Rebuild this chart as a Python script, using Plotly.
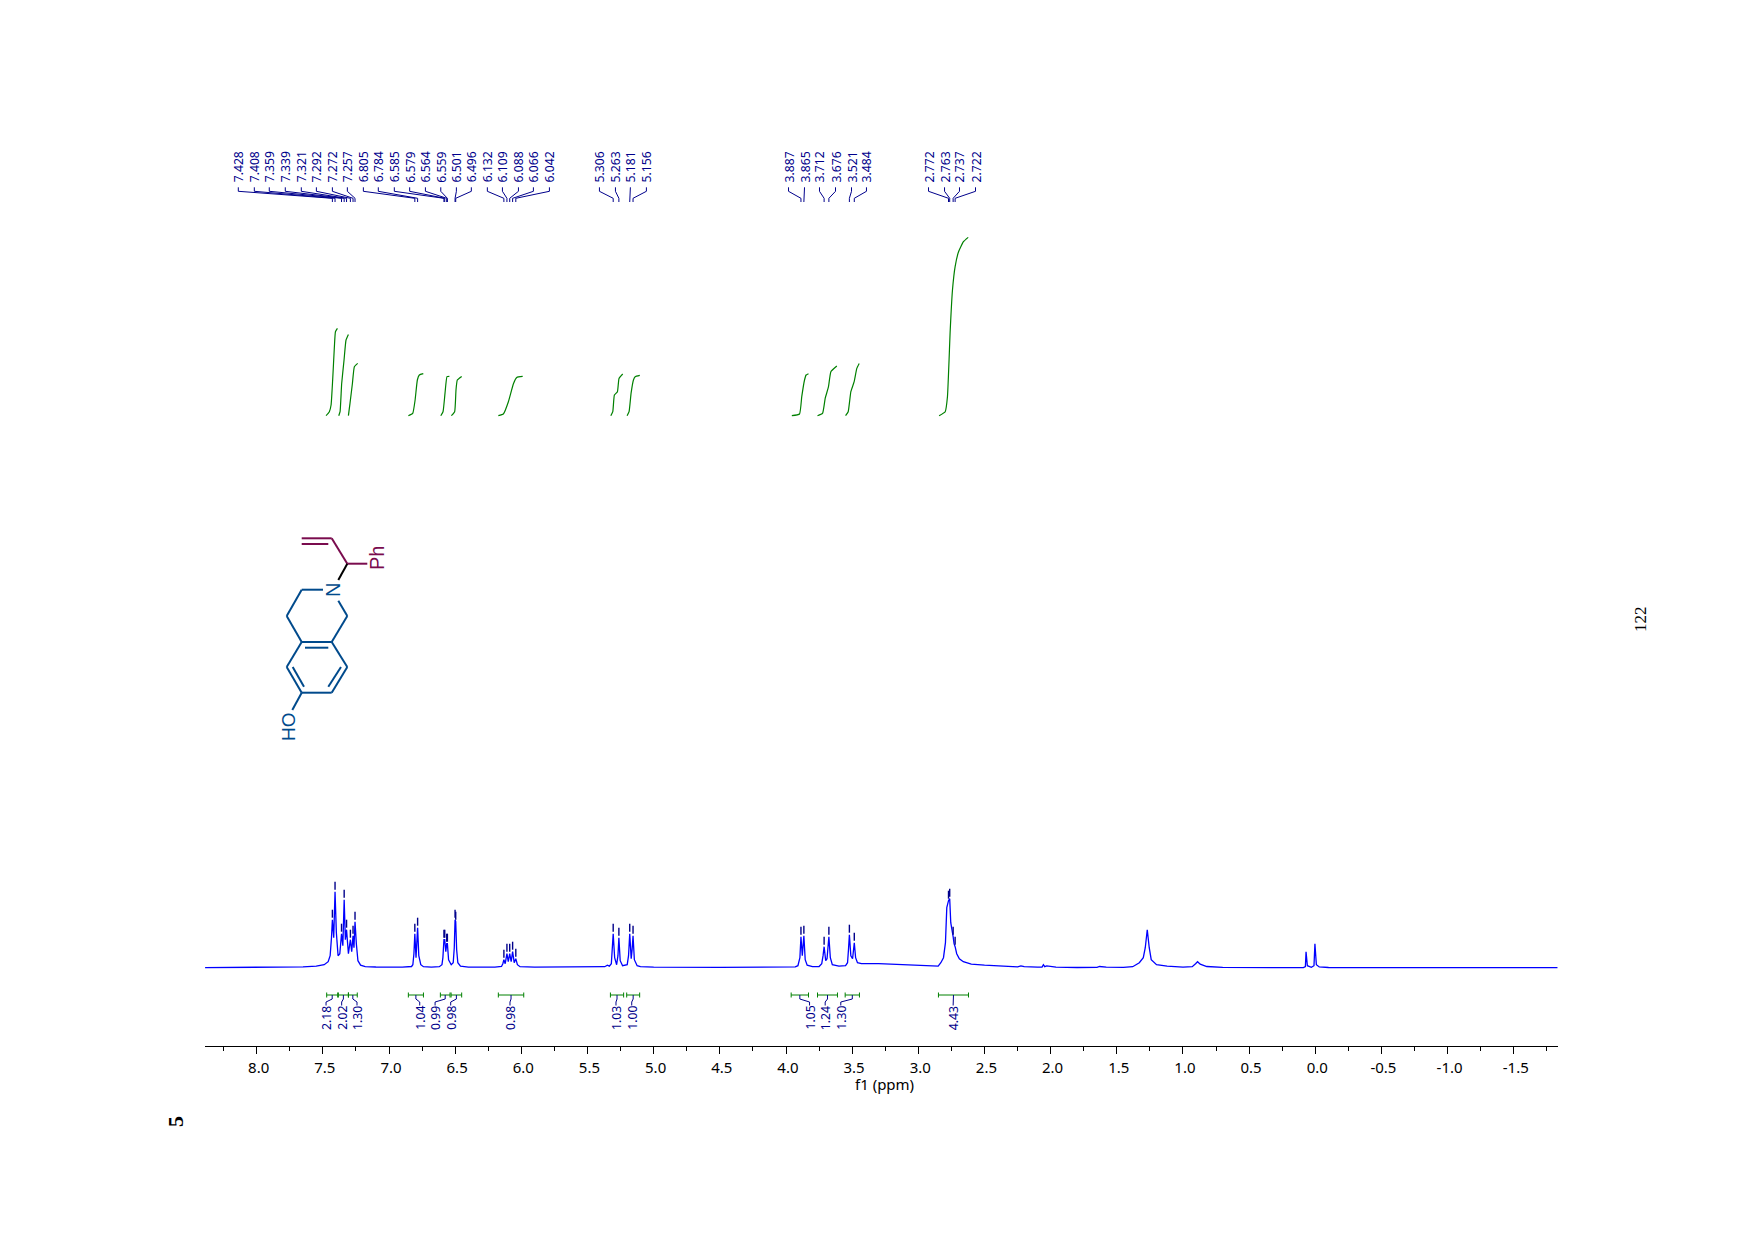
"""1H NMR spectrum with peak labels, integrals and structure inset"""
import plotly.graph_objects as go

W, H = 1754, 1240
AX_LEFT, AX_RIGHT = 204.7, 1558.0
BASE_PX = 967.7
INT_BASE = 552.0   # integral curves start here (same units as the spectrum)
NAVY, GREEN, BLUE = '#00008B', '#008000', '#0000FF'
MOL_BLUE, MOL_RED = '#004A8C', '#7A0C4E'
FONT = 'Noto Sans'

tick_vals = [8.0, 7.5, 7.0, 6.5, 6.0, 5.5, 5.0, 4.5, 4.0, 3.5, 3.0, 2.5, 2.0, 1.5, 1.0, 0.5, 0.0, -0.5, -1.0, -1.5]
tick_labels = ['8.0', '7.5', '7.0', '6.5', '6.0', '5.5', '5.0', '4.5', '4.0', '3.5', '3.0', '2.5', '2.0', '1.5',
               '1.0', '0.5', '0.0', '-0.5', '-1.0', '-1.5']

# spectrum trace
arom_ppm = [8.39, 7.8, 7.65, 7.55, 7.49, 7.46, 7.445, 7.435, 7.428, 7.418, 7.408, 7.398, 7.385, 7.372, 7.359, 7.349,
            7.339, 7.33, 7.321, 7.307, 7.292, 7.282, 7.272, 7.265, 7.257, 7.247, 7.235, 7.215, 7.18, 7.1, 7.0, 6.9]
arom_int = [0, 0.3, 0.9, 1.5, 3, 6, 12, 30, 48, 30, 76, 35, 12, 14, 34, 22,
            68, 28, 38, 14, 28, 16, 32, 20, 46, 24, 7, 2.5, 1, 0.7, 0.5, 0.6]
ar2_ppm = [6.83, 6.82, 6.812, 6.805, 6.796, 6.784, 6.775, 6.76, 6.74, 6.68, 6.62, 6.6, 6.593, 6.585, 6.579, 6.571,
           6.564, 6.559, 6.55, 6.53, 6.515, 6.507, 6.501, 6.496, 6.489, 6.48, 6.46, 6.4]
ar2_int = [1.2, 3, 14, 34, 10, 40, 12, 3, 1, 0.6, 1, 3, 10, 28, 28, 16,
           24, 24, 8, 3, 5, 20, 48, 46, 18, 5, 1.5, 0.6]
vinyl_ppm = [6.2, 6.15, 6.14, 6.132, 6.122, 6.109, 6.099, 6.088, 6.077, 6.066, 6.054, 6.042, 6.03, 6.01, 5.9, 5.5,
             5.37, 5.35, 5.335, 5.32, 5.314, 5.306, 5.295, 5.28, 5.27, 5.263, 5.253, 5.235, 5.2, 5.19, 5.181, 5.17,
             5.163, 5.156, 5.146, 5.125, 5.1, 5.0, 4.5, 4.15]
vinyl_int = [0.6, 1.2, 4, 8, 4, 14, 6, 14, 6, 16, 5, 9, 3, 1, 0.5, 0.5,
             1, 2.5, 1.5, 4, 14, 34, 10, 3, 12, 30, 7, 2, 3, 12, 34, 9,
             18, 32, 8, 2, 1, 0.5, 0.4, 0.6]
mid_ppm = [3.93, 3.91, 3.895, 3.887, 3.877, 3.865, 3.855, 3.84, 3.8, 3.75, 3.73, 3.72, 3.712, 3.7, 3.69, 3.676,
           3.665, 3.65, 3.6, 3.55, 3.535, 3.528, 3.521, 3.51, 3.497, 3.484, 3.474, 3.46, 3.43, 3.3, 3.1, 2.9]
mid_int = [0.8, 2, 10, 31, 12, 32, 8, 2.5, 1, 1.2, 4, 12, 21, 7, 9, 31,
           10, 3, 1.5, 2, 5, 18, 33, 12, 9, 25, 10, 5, 4, 4, 3, 1.5]
ch2_ppm = [2.85, 2.83, 2.81, 2.795, 2.785, 2.772, 2.763, 2.755, 2.745, 2.737, 2.73, 2.722, 2.71, 2.69, 2.66, 2.6,
           2.5, 2.35, 2.25, 2.225, 2.2, 2.1, 2.065, 2.055, 2.045, 2.03, 2.0, 1.96, 1.8, 1.65, 1.63, 1.58, 1.45]
ch2_int = [1.5, 5, 10, 25, 60, 67, 69, 45, 34, 31, 24, 21, 14, 9, 6, 3.5,
           2.5, 1.2, 0.8, 1.8, 1, 0.6, 0.7, 3, 1, 1.8, 1.4, 0.6, 0.2, 0.4, 1.2, 0.6, 0.3]
upfield_ppm = [1.38, 1.33, 1.3, 1.285, 1.27, 1.255, 1.24, 1.2, 1.12, 1.0, 0.93, 0.905, 0.89, 0.87, 0.82, 0.7, 0.5,
               0.09, 0.075, 0.07, 0.06, 0.03, 0.01, 0.003, -0.008, -0.03, -0.1, -1.83]
upfield_int = [1, 5, 10, 20, 38, 20, 8, 3, 1.5, 0.6, 1, 4, 6, 3.5, 1.2, 0.4, 0.2,
               0, 1, 16, 2, 0.4, 2, 24, 3, 0.8, 0.2, 0]

# peak picks: value, height of the peak, position of the label
peak_ppm = [7.428, 7.408, 7.359, 7.339, 7.321, 7.292, 7.272, 7.257, 6.805, 6.784, 6.585, 6.579, 6.564, 6.559, 6.501,
            6.496, 6.132, 6.109, 6.088, 6.066, 6.042, 5.306, 5.263, 5.181, 5.156, 3.887, 3.865, 3.712, 3.676, 3.521,
            3.484, 2.772, 2.763, 2.737, 2.722]
peak_height = [48, 76, 34, 68, 38, 28, 32, 46, 34, 40, 28, 28, 24, 24, 48,
               46, 8, 14, 14, 16, 9, 34, 30, 34, 32, 31, 32, 21, 31, 33,
               25, 67, 69, 31, 21]
label_ppm = [8.139, 8.018, 7.905, 7.784, 7.663, 7.549, 7.428, 7.315, 7.194, 7.081, 6.96, 6.844, 6.725, 6.609, 6.491,
             6.378, 6.257, 6.143, 6.022, 5.909, 5.788, 5.41, 5.289, 5.176, 5.055, 3.981, 3.86, 3.747, 3.626, 3.505,
             3.392, 2.923, 2.802, 2.689, 2.568]

# integrals: range, printed value, label position
int_start = [7.471, 7.383, 7.307, 6.854, 6.612, 6.531, 6.174, 5.327, 5.204, 3.961, 3.762, 3.553, 2.848]
int_end = [7.388, 7.307, 7.24, 6.74, 6.539, 6.451, 5.982, 5.227, 5.106, 3.83, 3.611, 3.445, 2.621]
int_value = ['2.18', '2.02', '1.30', '1.04', '0.99', '0.98', '0.98', '1.03', '1.00', '1.05', '1.24', '1.30', '4.43']
int_label_ppm = [7.476, 7.358, 7.242, 6.768, 6.652, 6.534, 6.086, 5.285, 5.166, 3.822, 3.704, 3.586, 2.737]

curve_ppm = [
    [7.476, 7.451, 7.438, 7.426, 7.413, 7.405, 7.39],
    [7.38, 7.37, 7.358, 7.34, 7.325, 7.307],
    [7.307, 7.295, 7.277, 7.262, 7.237],
    [6.854, 6.821, 6.803, 6.786, 6.771, 6.741],
    [6.609, 6.592, 6.577, 6.562, 6.544],
    [6.529, 6.504, 6.494, 6.484, 6.451],
    [6.174, 6.136, 6.098, 6.06, 6.035, 5.99],
    [5.324, 5.309, 5.297, 5.274, 5.262, 5.234],
    [5.201, 5.186, 5.171, 5.153, 5.14, 5.105],
    [3.956, 3.898, 3.881, 3.86, 3.848, 3.83],
    [3.762, 3.724, 3.704, 3.679, 3.661, 3.616],
    [3.55, 3.53, 3.51, 3.485, 3.465, 3.447],
    [2.843, 2.797, 2.78, 2.759, 2.742, 2.722, 2.696, 2.659, 2.623],
]
curve_val = [
    [0, 4, 10.7, 35.7, 69, 84, 87.3],
    [0, 4, 32, 55.7, 75.7, 81.3],
    [0, 12.3, 32, 49, 52.3],
    [0, 2.3, 15.7, 35.7, 40.7, 42],
    [0, 4, 22.3, 39, 39.3],
    [0, 4, 25.7, 35.7, 39.3],
    [0, 1.7, 14, 32, 38.3, 39.3],
    [0, 4, 20.7, 24, 37.3, 41.7],
    [0, 4, 22.3, 35.7, 39, 40.3],
    [0, 1.7, 19, 35.7, 40.7, 42],
    [0, 2.3, 17.3, 29, 44, 49.7],
    [0, 4, 24, 34, 47.3, 52.3],
    [0, 4, 19, 85.7, 125.7, 149, 164, 174, 178.3],
]

# structure inset, bonds as page pixels
mol_blue_bonds = [(323, 589.7, 301.7, 589.7), (301.7, 589.7, 286.7, 616), (286.7, 616, 301.7, 642),
                  (301.7, 642, 331.7, 642), (331.7, 642, 347.3, 616), (347.3, 616, 338.3, 600.7),
                  (305, 647.7, 328.3, 647.7), (301.7, 642, 286.7, 667), (286.7, 667, 301.7, 692.7),
                  (301.7, 692.7, 331.7, 692.7), (331.7, 692.7, 347.3, 667), (347.3, 667, 331.7, 642),
                  (292.7, 667, 304, 686.7), (328.3, 686.7, 341, 667), (301.7, 692.7, 292.3, 710)]
mol_red_bonds = [(301.7, 538.3, 331.7, 538.3), (301.7, 544, 328.3, 544), (331.7, 538.3, 347.3, 563.7),
                 (347.3, 563.7, 367.3, 563.7)]
mol_black_bonds = [(347.3, 563.7, 338.3, 580)]


def polyline(segments):
    xs, ys = [], []
    for seg_x, seg_y in segments:
        xs += list(seg_x) + [None]
        ys += list(seg_y) + [None]
    return xs, ys


def line_trace(xs, ys, color, width=1.0):
    return go.Scatter(x=xs, y=ys, mode='lines', line=dict(color=color, width=width),
                      hoverinfo='skip', showlegend=False)


def y_of(px):
    return BASE_PX - px


fig = go.Figure()

spec_x = arom_ppm + ar2_ppm + vinyl_ppm + mid_ppm + ch2_ppm + upfield_ppm
spec_y = arom_int + ar2_int + vinyl_int + mid_int + ch2_int + upfield_int
fig.add_trace(line_trace(spec_x, spec_y, BLUE, 1.3))

# tick marks above the picked peaks
xs, ys = polyline(([p, p], [h + 2, h + 10]) for p, h in zip(peak_ppm, peak_height))
fig.add_trace(line_trace(xs, ys, NAVY, 1.4))

# stems from the labels to the peak positions
xs, ys = polyline(([lab, lab, p, p], [y_of(187.3), y_of(191.3), y_of(198.3), y_of(202)])
                  for p, lab in zip(peak_ppm, label_ppm))
fig.add_trace(line_trace(xs, ys, NAVY, 1.0))

for cx, cy in zip(curve_ppm, curve_val):
    fig.add_trace(go.Scatter(x=cx, y=[INT_BASE + v for v in cy], mode='lines', hoverinfo='skip', showlegend=False,
                             line=dict(color=GREEN, width=1.2, shape='spline', smoothing=0.4)))

# integral brackets under the spectrum
xs, ys = polyline(([a, b], [y_of(995), y_of(995)]) for a, b in zip(int_start, int_end))
fig.add_trace(line_trace(xs, ys, GREEN, 1.0))
xs, ys = polyline(([e, e], [y_of(992.5), y_of(997.5)]) for e in int_start + int_end)
fig.add_trace(line_trace(xs, ys, GREEN, 1.0))
xs, ys = polyline(([(a + b) / 2, (a + b) / 2, lab, lab], [y_of(995), y_of(999), y_of(1002), y_of(1005.5)])
                  for a, b, lab in zip(int_start, int_end, int_label_ppm))
fig.add_trace(line_trace(xs, ys, NAVY, 1.0))

annotations = []
for p, lab in zip(peak_ppm, label_ppm):
    annotations.append(dict(x=lab, y=y_of(167), xref='x', yref='y', text=f'{p:.3f}', textangle=-90,
                            showarrow=False, font=dict(family=FONT, size=12.2, color=NAVY)))
for val, lab in zip(int_value, int_label_ppm):
    annotations.append(dict(x=lab, y=y_of(1018), xref='x', yref='y', text=val, textangle=-90,
                            showarrow=False, font=dict(family=FONT, size=12.2, color=NAVY)))


def page_text(px, py, text, family, size, color, angle=-90):
    annotations.append(dict(x=px / W, y=1 - py / H, xref='paper', yref='paper', text=text, textangle=angle,
                            xanchor='center', yanchor='middle', showarrow=False,
                            font=dict(family=family, size=size, color=color)))


page_text(377, 558, 'Ph', 'Liberation Sans', 20, MOL_RED)
page_text(332.5, 590.5, 'N', 'Liberation Sans', 20, MOL_BLUE)
page_text(288, 727, 'HO', 'Liberation Sans', 19, MOL_BLUE)
page_text(1640, 619, '122', 'Liberation Serif', 17, '#000000')
page_text(175, 1122, '<b>5</b>', 'Liberation Serif', 22, '#000000')
page_text(884.7, 1083.5, 'f1 (ppm)', FONT, 15, '#000000', angle=0)

shapes = []
for bonds, color in ((mol_blue_bonds, MOL_BLUE), (mol_red_bonds, MOL_RED), (mol_black_bonds, '#000000')):
    for x0, y0, x1, y1 in bonds:
        shapes.append(dict(type='line', xref='paper', yref='paper', x0=x0 / W, x1=x1 / W,
                           y0=1 - y0 / H, y1=1 - y1 / H, line=dict(color=color, width=2)))

fig.update_layout(
    width=W, height=H, margin=dict(l=0, r=0, t=0, b=0), paper_bgcolor='white', plot_bgcolor='white',
    showlegend=False, annotations=annotations, shapes=shapes,
    xaxis=dict(domain=[AX_LEFT / W, AX_RIGHT / W], range=[8.393, -1.834], anchor='free', position=1 - 1045.5 / H,
               showgrid=False, zeroline=False, showline=True, linecolor='black', linewidth=1,
               tickmode='array', tickvals=tick_vals, ticktext=['&nbsp;' + t for t in tick_labels],
               ticks='outside', ticklen=7, tickcolor='black', tickwidth=1, tickangle=0, ticklabelstandoff=1,
               tickfont=dict(family=FONT, size=15, color='#000000'),
               minor=dict(tickmode='linear', tick0=0, dtick=0.25, ticks='outside', ticklen=4, tickcolor='black')),
    yaxis=dict(domain=[0, 1], range=[BASE_PX - H, BASE_PX], visible=False),
)

# page body has an 8px margin by default, drop it so the figure sits at the corner
fig.write_html("out.html", config=dict(displayModeBar=False), post_script="document.body.style.margin='0';")
